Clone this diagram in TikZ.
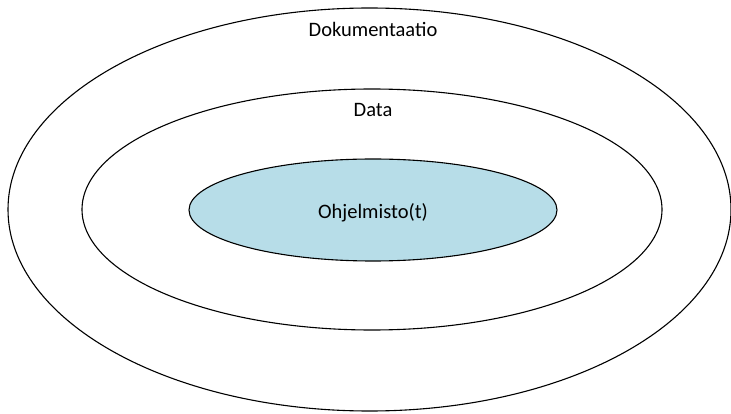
\documentclass[tikz,border=0pt]{standalone}
\usepackage{fontspec}
\setmainfont{Carlito}
\usetikzlibrary{shapes.geometric,calc}

\begin{document}
\begin{tikzpicture}[x=1pt,y=-1pt,
            kehä/.style={draw=black, line width=1.1pt, ellipse, inner sep=0pt},
            teksti/.style={font=\fontsize{20.5}{24}\selectfont, inner sep=0pt}]
            \useasboundingbox (0,0) rectangle (731,414);
            \coordinate (c) at (372,209.5);

            \node[kehä, minimum width=723pt, minimum height=403pt] (ulko) at ($(c)+(-2.5,0)$) {};
            \node[kehä, minimum width=580pt, minimum height=241pt] (keski) at (c) {};
            \node[kehä, fill={rgb,255:red,183;green,221;blue,232}, minimum width=368pt, minimum height=102pt] (sisa) at ($(c)+(1,0.5)$) {};

            \node[teksti] (dok) at ($(c)+(1,-180)$) {Dokumentaatio};
            \node[teksti] (data) at ($(c)+(1,-99)$) {Data};
            \node[teksti] (ohj) at ($(c)+(1,3)$) {Ohjelmisto(t)};
        \end{tikzpicture}
\end{document}
